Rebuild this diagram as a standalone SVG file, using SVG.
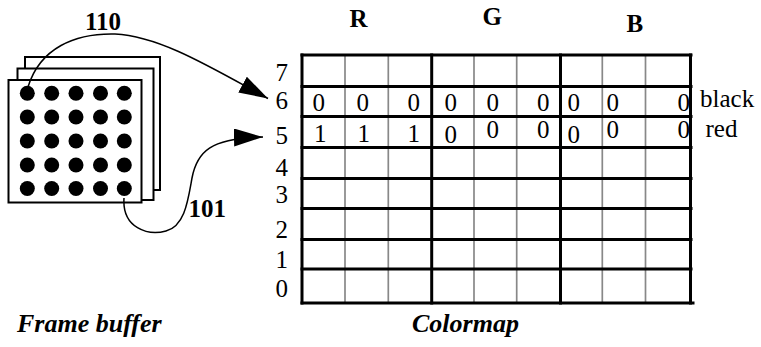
<svg xmlns="http://www.w3.org/2000/svg" width="761" height="347" viewBox="0 0 761 347">
<style>
text{font-family:'Liberation Serif','Times New Roman',Times,serif;fill:#000}
.t{font-size:25px}
.b{font-size:25px;font-weight:bold}
.bi{font-size:26px;font-weight:bold;font-style:italic}
.sheet{fill:#fff;stroke:#000;stroke-width:2}
.thick{stroke:#000;stroke-width:3;fill:none}
.thin{stroke:#888;stroke-width:1.7;fill:none}
.con{stroke:#000;stroke-width:1.5;fill:none;marker-end:url(#ah)}
</style>
<defs>
<marker id="ah" markerUnits="userSpaceOnUse" markerWidth="30" markerHeight="18" refX="29" refY="9" orient="auto">
<path d="M0,0 L29,9 L0,18 z" fill="#000"/>
</marker>
</defs>
<rect width="761" height="347" fill="#fff"/>
<g id="frame-buffer">
<rect class="sheet" x="25" y="57" width="135" height="133"/>
<rect class="sheet" x="17.5" y="68.5" width="136" height="131.5"/>
<rect class="sheet" x="8.5" y="80" width="133" height="122.5"/>
<g fill="#000">
<circle cx="27.3" cy="93.3" r="7.5"/><circle cx="51.7" cy="93.3" r="7.5"/><circle cx="76" cy="93.3" r="7.5"/><circle cx="100.5" cy="93.3" r="7.5"/><circle cx="124.3" cy="93.3" r="7.5"/>
<circle cx="27.3" cy="117" r="7.5"/><circle cx="51.7" cy="117" r="7.5"/><circle cx="76" cy="117" r="7.5"/><circle cx="100.5" cy="117" r="7.5"/><circle cx="124.3" cy="117" r="7.5"/>
<circle cx="27.3" cy="141" r="7.5"/><circle cx="51.7" cy="141" r="7.5"/><circle cx="76" cy="141" r="7.5"/><circle cx="100.5" cy="141" r="7.5"/><circle cx="124.3" cy="141" r="7.5"/>
<circle cx="27.3" cy="165" r="7.5"/><circle cx="51.7" cy="165" r="7.5"/><circle cx="76" cy="165" r="7.5"/><circle cx="100.5" cy="165" r="7.5"/><circle cx="124.3" cy="165" r="7.5"/>
<circle cx="27.3" cy="188.5" r="7.5"/><circle cx="51.7" cy="188.5" r="7.5"/><circle cx="76" cy="188.5" r="7.5"/><circle cx="100.5" cy="188.5" r="7.5"/><circle cx="124.3" cy="188.5" r="7.5"/>
</g>
<text class="bi" x="17" y="332">Frame buffer</text>
</g>
<g id="colormap">
<g class="thin">
<line x1="345" y1="55" x2="345" y2="303.5"/><line x1="388.3" y1="55" x2="388.3" y2="303.5"/>
<line x1="474" y1="55" x2="474" y2="303.5"/><line x1="516.7" y1="55" x2="516.7" y2="303.5"/>
<line x1="602.3" y1="55" x2="602.3" y2="303.5"/><line x1="645.5" y1="55" x2="645.5" y2="303.5"/>
</g>
<g class="thick">
<line x1="300.5" y1="55" x2="692.5" y2="55"/>
<line x1="300.5" y1="86.5" x2="692.5" y2="86.5"/>
<line x1="300.5" y1="116.5" x2="692.5" y2="116.5"/>
<line x1="300.5" y1="147.5" x2="692.5" y2="147.5"/>
<line x1="300.5" y1="178.5" x2="692.5" y2="178.5"/>
<line x1="300.5" y1="208.5" x2="692.5" y2="208.5"/>
<line x1="300.5" y1="239.5" x2="692.5" y2="239.5"/>
<line x1="300.5" y1="269" x2="692.5" y2="269"/>
<line x1="300.5" y1="303" x2="694.5" y2="303"/>
<line x1="302" y1="53.5" x2="302" y2="304.5"/>
<line x1="431.7" y1="53.5" x2="431.7" y2="304.5"/>
<line x1="560.5" y1="53.5" x2="560.5" y2="304.5"/>
<line x1="690.5" y1="53.5" x2="690.5" y2="304.5"/>
</g>
<g class="t" text-anchor="end">
<text x="288" y="81">7</text>
<text x="288" y="108.5">6</text>
<text x="288" y="144">5</text>
<text x="288" y="175.5">4</text>
<text x="288" y="203">3</text>
<text x="288" y="238">2</text>
<text x="288" y="268">1</text>
<text x="288" y="296.5">0</text>
</g>
<g class="t">
<text x="312.5" y="111">0</text><text x="356.5" y="111">0</text><text x="407.5" y="111">0</text><text x="444.5" y="111">0</text><text x="486.5" y="111">0</text><text x="537" y="111">0</text><text x="567.5" y="111">0</text><text x="606.5" y="111">0</text><text x="677.5" y="111">0</text>
<text x="314" y="141.5">1</text><text x="357.5" y="141.5">1</text><text x="407.5" y="141.5">1</text><text x="444.5" y="142.5">0</text><text x="486.5" y="138">0</text><text x="537" y="138">0</text><text x="567.5" y="142.5">0</text><text x="606.5" y="138">0</text><text x="677.5" y="138">0</text>
<text x="700" y="106.5">black</text>
<text x="705.5" y="136.5">red</text>
</g>
<g class="b">
<text x="349.5" y="26.7">R</text>
<text x="482.5" y="24.5">G</text>
<text x="626.5" y="31.7">B</text>
</g>
<text class="bi" x="412" y="332">Colormap</text>
</g>
<g id="connectors">
<path class="con" d="M28,87 C40,48 75,33 115,34 C160,36 212,68 268,98.5"/>
<text class="b" x="85" y="30">110</text>
<path class="con" d="M124,198 C122,228 148,236 166,231 C185,226 188,200 192,178 C197,152 210,138 263,137"/>
<text class="b" x="188.5" y="216.7">101</text>
</g>
</svg>
